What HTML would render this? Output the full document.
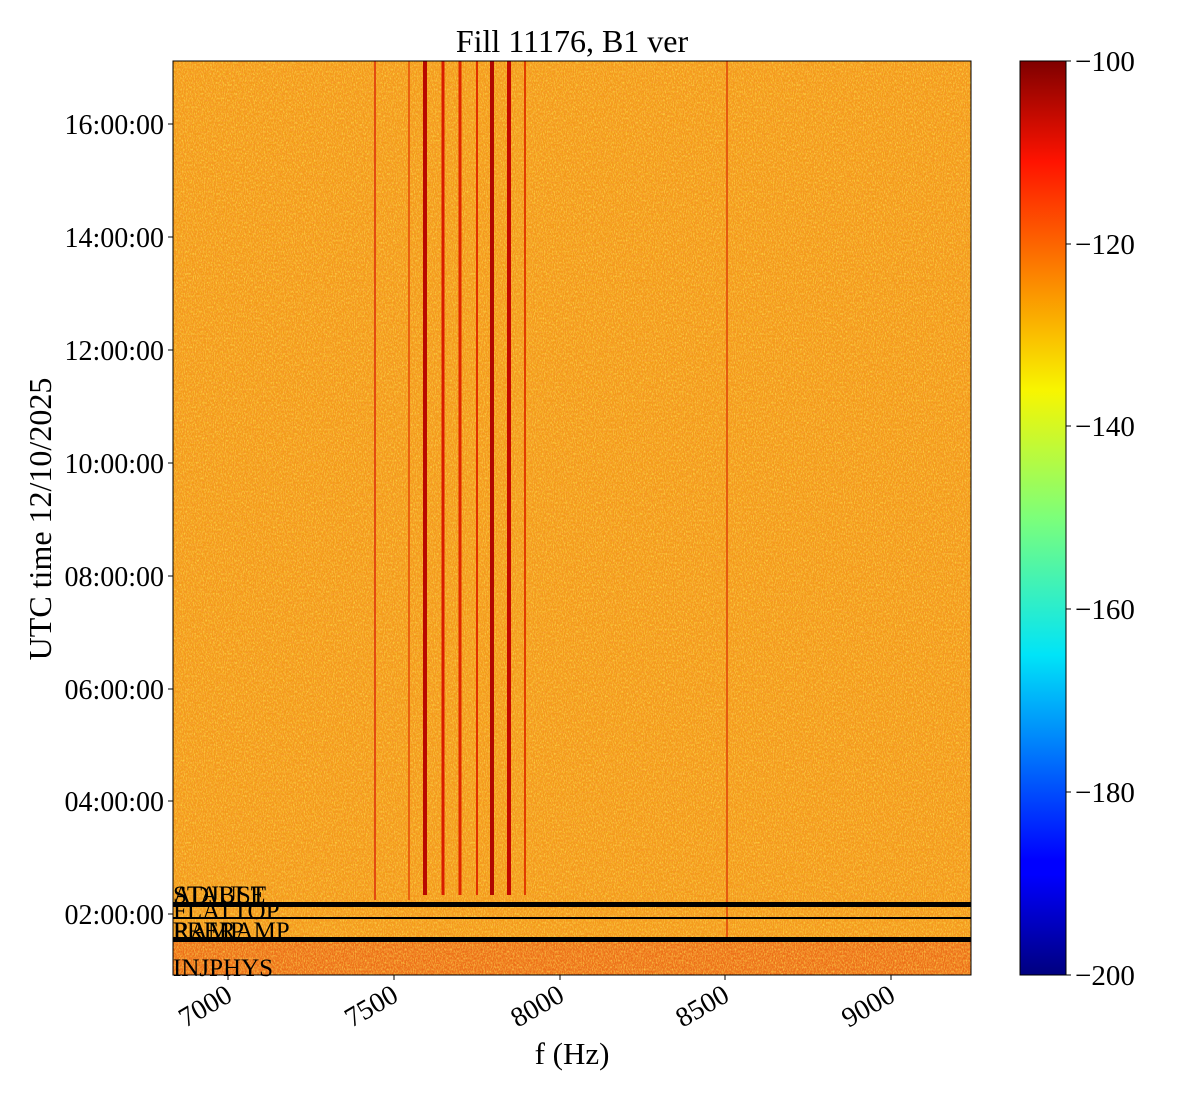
<!DOCTYPE html>
<html><head><meta charset="utf-8"><style>
body{margin:0;background:#fff;}
svg text{font-family:"Liberation Serif",serif;fill:#000;}
</style></head><body>
<svg width="1200" height="1100" viewBox="0 0 1200 1100" xmlns="http://www.w3.org/2000/svg">
<defs>
<filter id="nz" x="0" y="0" width="100%" height="100%">
<feTurbulence type="fractalNoise" baseFrequency="0.9 0.45" numOctaves="2" seed="3"/>
<feColorMatrix type="matrix" values="0 0 0 0 1  0 0 0 0 0.85  0 0 0 0 0.1  2.4 0 0 0 -1.0"/>
</filter>
<filter id="nz2" x="0" y="0" width="100%" height="100%">
<feTurbulence type="fractalNoise" baseFrequency="0.8 0.5" numOctaves="2" seed="9"/>
<feColorMatrix type="matrix" values="0 0 0 0 0.95  0 0 0 0 0.3  0 0 0 0 0.05  0 2.4 0 0 -1.0"/>
</filter>
<linearGradient id="jet" x1="0" y1="1" x2="0" y2="0">
<stop offset="0" stop-color="#00007f"/>
<stop offset="0.11" stop-color="#0000ff"/>
<stop offset="0.125" stop-color="#0000ff"/>
<stop offset="0.35" stop-color="#00e4f8"/>
<stop offset="0.5" stop-color="#7cff7a"/>
<stop offset="0.64" stop-color="#f8f500"/>
<stop offset="0.89" stop-color="#ff1300"/>
<stop offset="1" stop-color="#7f0000"/>
</linearGradient>
</defs>
<text x="572" y="52" font-size="32" text-anchor="middle">Fill 11176, B1 ver</text>
<rect x="173" y="61" width="798" height="914" fill="#f39a18"/>
<rect x="173" y="940" width="798" height="35" fill="#ec6e16"/>
<rect x="173" y="61" width="798" height="914" filter="url(#nz)" opacity="0.7"/>
<rect x="173" y="61" width="798" height="914" filter="url(#nz2)" opacity="0.6"/>
<g stroke-width="3" fill="none">
<line x1="375" y1="61" x2="375" y2="900" stroke="#e24a10" stroke-width="2"/>
<line x1="409" y1="61" x2="409" y2="900" stroke="#e86010" stroke-width="2"/>
<line x1="425" y1="61" x2="425" y2="895" stroke="#b80800" stroke-width="4"/>
<line x1="443" y1="61" x2="443" y2="895" stroke="#d81c00"/>
<line x1="460" y1="61" x2="460" y2="895" stroke="#dc2400"/>
<line x1="477" y1="61" x2="477" y2="895" stroke="#e03000" stroke-width="2"/>
<line x1="492" y1="61" x2="492" y2="895" stroke="#b00800" stroke-width="4"/>
<line x1="509" y1="61" x2="509" y2="895" stroke="#c00800" stroke-width="4"/>
<line x1="525" y1="61" x2="525" y2="895" stroke="#e03c00" stroke-width="2"/>
<line x1="727" y1="61" x2="727" y2="940" stroke="#e45a10" stroke-width="2"/>
</g>
<rect x="173" y="902" width="798" height="5" fill="#000"/>
<rect x="173" y="917" width="798" height="2" fill="#000"/>
<rect x="173" y="937" width="798" height="5" fill="#000"/>
<g font-size="25">
<text x="173" y="903">STABLE</text>
<text x="173" y="903">ADJUST</text>
<text x="173" y="919">FLATTOP</text>
<text x="173" y="939">RAMP</text>
<text x="173" y="939">PRERAMP</text>
<text x="173" y="976">INJPHYS</text>
</g>
<rect x="173" y="61" width="798" height="914" fill="none" stroke="#000" stroke-width="1"/>
<g stroke="#000" stroke-width="1">
<line x1="228" y1="975" x2="228" y2="980"/><line x1="394" y1="975" x2="394" y2="980"/><line x1="560" y1="975" x2="560" y2="980"/><line x1="725" y1="975" x2="725" y2="980"/><line x1="891" y1="975" x2="891" y2="980"/>
</g>
<g font-size="28" text-anchor="end">
<text transform="translate(234,1000) rotate(-30)">7000</text>
<text transform="translate(400,1000) rotate(-30)">7500</text>
<text transform="translate(566,1000) rotate(-30)">8000</text>
<text transform="translate(731,1000) rotate(-30)">8500</text>
<text transform="translate(897,1000) rotate(-30)">9000</text>
</g>
<text x="572" y="1064" font-size="31" text-anchor="middle">f (Hz)</text>
<g stroke="#000"><line x1="168" y1="124" x2="173" y2="124"/><line x1="168" y1="237" x2="173" y2="237"/><line x1="168" y1="350" x2="173" y2="350"/><line x1="168" y1="463" x2="173" y2="463"/><line x1="168" y1="576" x2="173" y2="576"/><line x1="168" y1="689" x2="173" y2="689"/><line x1="168" y1="801" x2="173" y2="801"/><line x1="168" y1="914" x2="173" y2="914"/></g>
<g font-size="28" text-anchor="end">
<text x="164" y="134">16:00:00</text><text x="164" y="247">14:00:00</text><text x="164" y="360">12:00:00</text><text x="164" y="473">10:00:00</text><text x="164" y="586">08:00:00</text><text x="164" y="699">06:00:00</text><text x="164" y="811">04:00:00</text><text x="164" y="924">02:00:00</text>
</g>
<text transform="translate(51,519) rotate(-90)" font-size="32" text-anchor="middle">UTC time 12/10/2025</text>
<rect x="1020" y="61" width="46" height="914" fill="url(#jet)" stroke="#000" stroke-width="1"/>
<g stroke="#000"><line x1="1066" y1="61" x2="1071" y2="61"/><line x1="1066" y1="244" x2="1071" y2="244"/><line x1="1066" y1="426" x2="1071" y2="426"/><line x1="1066" y1="609" x2="1071" y2="609"/><line x1="1066" y1="792" x2="1071" y2="792"/><line x1="1066" y1="975" x2="1071" y2="975"/></g>
<g font-size="29">
<text x="1075" y="71">−100</text><text x="1075" y="254">−120</text><text x="1075" y="436">−140</text><text x="1075" y="619">−160</text><text x="1075" y="802">−180</text><text x="1075" y="985">−200</text>
</g>
</svg>
</body></html>
